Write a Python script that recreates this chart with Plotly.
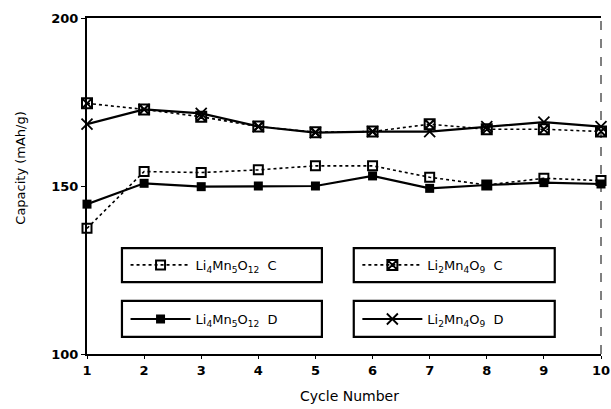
import plotly.graph_objects as go

# Cycling data: discharge/charge capacity per cycle
cycles = [1, 2, 3, 4, 5, 6, 7, 8, 9, 10]
li4mn5o12_c = [137.4, 154.3, 154.0, 154.8, 156.0, 156.0, 152.6, 150.3, 152.3, 151.6]
li4mn5o12_d = [144.6, 150.8, 149.8, 150.0, 150.0, 153.0, 149.3, 150.3, 151.0, 150.6]
li2mn4o9_c = [174.6, 172.8, 170.6, 167.7, 166.0, 166.2, 168.4, 166.9, 166.9, 166.2]
li2mn4o9_d = [168.4, 172.8, 171.6, 167.7, 165.9, 166.2, 166.2, 167.7, 169.0, 167.7]

x_ticks = [1, 2, 3, 4, 5, 6, 7, 8, 9, 10]
y_ticks = [100, 150, 200]

name_li4_c = "Li<sub>4</sub>Mn<sub>5</sub>O<sub>12</sub>\u00a0\u00a0C"
name_li2_c = "Li<sub>2</sub>Mn<sub>4</sub>O<sub>9</sub>\u00a0\u00a0C"
name_li4_d = "Li<sub>4</sub>Mn<sub>5</sub>O<sub>12</sub>\u00a0\u00a0D"
name_li2_d = "Li<sub>2</sub>Mn<sub>4</sub>O<sub>9</sub>\u00a0\u00a0D"

FONT = "DejaVu Sans"

fig = go.Figure()

fig.add_trace(go.Scatter(
    x=cycles, y=li4mn5o12_c, name=name_li4_c, legend="legend",
    mode="lines+markers", cliponaxis=False,
    line=dict(color="black", width=1.6, dash="dot"),
    marker=dict(symbol="square-open", size=9, color="black", line=dict(width=2)),
))
fig.add_trace(go.Scatter(
    x=cycles, y=li2mn4o9_c, name=name_li2_c, legend="legend2",
    mode="lines+markers", cliponaxis=False,
    line=dict(color="black", width=1.6, dash="dot"),
    marker=dict(symbol="square-x-open", size=10, color="black", line=dict(width=2)),
))
fig.add_trace(go.Scatter(
    x=cycles, y=li4mn5o12_d, name=name_li4_d, legend="legend3",
    mode="lines+markers", cliponaxis=False,
    line=dict(color="black", width=2.2),
    marker=dict(symbol="square", size=9, color="black"),
))
fig.add_trace(go.Scatter(
    x=cycles, y=li2mn4o9_d, name=name_li2_d, legend="legend4",
    mode="lines+markers", cliponaxis=False,
    line=dict(color="black", width=2.2),
    marker=dict(symbol="x-thin-open", size=11, color="black", line=dict(width=1.8)),
))

leg_common = dict(
    bgcolor="rgba(0,0,0,0)", borderwidth=0, itemwidth=60,
    font=dict(family=FONT, size=13, color="black"),
    xanchor="left", yanchor="middle",
)
# frames around each legend entry
boxes = [
    (0.068, 0.214, 0.457, 0.315),
    (0.519, 0.214, 0.910, 0.315),
    (0.068, 0.051, 0.457, 0.158),
    (0.519, 0.051, 0.910, 0.158),
]
shapes = [
    dict(type="rect", xref="paper", yref="paper", x0=a, y0=b, x1=c, y1=d,
         line=dict(color="black", width=2.2), fillcolor="white", layer="below")
    for a, b, c, d in boxes
]
# right-hand border drawn as a broken thin line
shapes.append(dict(type="line", xref="paper", yref="paper", x0=1, x1=1, y0=0, y1=1,
                   line=dict(color="black", width=1, dash="dash")))

fig.update_layout(
    width=611, height=409,
    margin=dict(l=87, r=10, t=18, b=55),
    paper_bgcolor="white", plot_bgcolor="white",
    showlegend=True,
    legend=dict(x=0.075, y=0.265, **leg_common),
    legend2=dict(x=0.526, y=0.265, **leg_common),
    legend3=dict(x=0.075, y=0.104, **leg_common),
    legend4=dict(x=0.526, y=0.104, **leg_common),
    shapes=shapes,
    xaxis=dict(
        range=[1, 10], tickvals=x_ticks, ticktext=[str(t) for t in x_ticks],
        showline=True, linecolor="black", linewidth=2, mirror=True,
        ticks="outside", ticklen=3, tickcolor="black", showgrid=False, zeroline=False,
        ticklabeloverflow="allow", automargin=False,
        tickfont=dict(family=FONT, size=13, color="black", weight="bold"),
    ),
    yaxis=dict(
        range=[100, 200], tickvals=y_ticks,
        showline=True, linecolor="black", linewidth=2,
        ticks="outside", ticklen=4, tickcolor="black", showgrid=False, zeroline=False,
        ticklabeloverflow="allow", automargin=False,
        tickfont=dict(family=FONT, size=13, color="black", weight="bold"),
    ),
    annotations=[
        dict(text="Cycle Number", xref="paper", yref="paper", x=0.51, y=-0.125,
             xanchor="center", yanchor="middle", showarrow=False,
             font=dict(family=FONT, size=14, color="black")),
        dict(text="Capacity (mAh/g)", xref="paper", yref="paper", x=-0.13, y=0.555,
             xanchor="center", yanchor="middle", showarrow=False, textangle=-90,
             font=dict(family=FONT, size=13, color="black")),
    ],
)

fig.write_html("out.html")
